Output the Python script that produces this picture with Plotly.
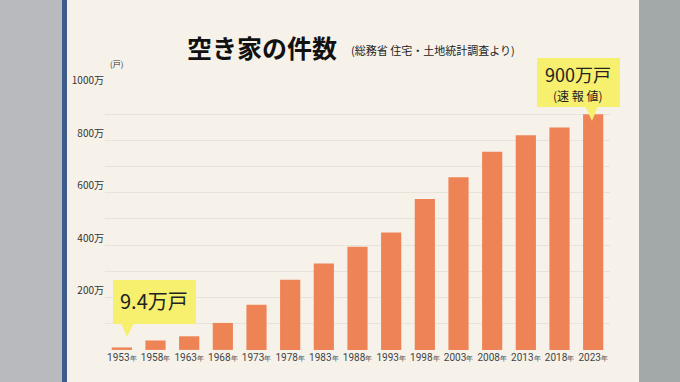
import plotly.graph_objects as go

years = ["1953", "1958", "1963", "1968", "1973", "1978", "1983", "1988",
         "1993", "1998", "2003", "2008", "2013", "2018", "2023"]
vacant_man = [9.4, 36, 52, 103, 172, 268, 330, 394, 448, 576, 659, 757, 820, 849, 900]
ytick_vals = [100, 200, 300, 400, 500, 600, 700, 800, 900, 1000]
ytick_text = ["", "200万", "", "400万", "", "600万", "", "800万", "", "1000万"]

W, H = 680, 382
def px(x): return x / W
# target picture row -> layout row (compensates the page offset seen in renders)
def py(y):
    yl = (y - 15) / 0.961
    return 1 - yl / H

JP = "Noto Sans CJK JP"
xlabels = [f"{y}<span style='font-size:7px'>年</span>" for y in years]

fig = go.Figure()
fig.add_trace(go.Bar(
    x=xlabels, y=vacant_man,
    marker=dict(color="#ee8455", line=dict(width=0)),
    hoverinfo="skip",
))

shapes = [
    dict(type="rect", xref="paper", yref="paper", x0=0, x1=px(63), y0=0, y1=1.1,
         fillcolor="#b8babd", line=dict(width=0), layer="below"),
    dict(type="rect", xref="paper", yref="paper", x0=px(62), x1=px(67), y0=0, y1=1.1,
         fillcolor="#3d5c8c", line=dict(width=0), layer="below"),
    dict(type="rect", xref="paper", yref="paper", x0=px(639), x1=1, y0=0, y1=1.1,
         fillcolor="#a3a8a8", line=dict(width=0), layer="below"),
    dict(type="path", xref="paper", yref="paper",
         path=f"M {px(121)},{py(323)} L {px(134)},{py(323)} L {px(127)},{py(337)} Z",
         fillcolor="#f7ef6e", line=dict(width=0)),
    dict(type="path", xref="paper", yref="paper",
         path=f"M {px(585)},{py(106)} L {px(598)},{py(106)} L {px(592)},{py(121)} Z",
         fillcolor="#f7ef6e", line=dict(width=0)),
    dict(type="rect", xref="paper", yref="paper", x0=px(113), x1=px(196), y0=py(324), y1=py(280),
         fillcolor="#f7ef6e", line=dict(width=0)),
    dict(type="rect", xref="paper", yref="paper", x0=px(537), x1=px(620), y0=py(107), y1=py(58),
         fillcolor="#f7ef6e", line=dict(width=0)),
]

def ann(text, x, y, size, color="#222", family=JP):
    return dict(text=text, x=px(x), y=py(y), xref="paper", yref="paper",
                xanchor="center", yanchor="middle", showarrow=False,
                font=dict(family=family, size=size, color=color))

annotations = [
    ann("<b>空き家の件数</b>", 262, 47, 25, "#111"),
    ann("(総務省 住宅・土地統計調査より)", 433, 50, 11),
    ann("(戸)", 116, 64, 8, "#333"),
    ann("9.4万戸", 154, 301, 20),
    ann("900万戸", 578, 74, 18),
    ann("(速 報 値)", 578, 96, 12),
]

fig.update_layout(
    width=W, height=H,
    margin=dict(l=0, r=0, t=0, b=0),
    paper_bgcolor="#f6f2ea",
    plot_bgcolor="rgba(0,0,0,0)",
    bargap=0.4,
    showlegend=False,
    shapes=shapes,
    annotations=annotations,
    xaxis=dict(domain=[px(105), px(610)], showgrid=False, showline=False, zeroline=False,
               ticks="", tickangle=0,
               tickfont=dict(family="Roboto", size=10, color="#444")),
    yaxis=dict(domain=[py(350), py(88)], range=[0, 1000],
               tickvals=ytick_vals, ticktext=ytick_text,
               ticklabelposition="outside top",
               showgrid=True, gridcolor="#e8e3da", gridwidth=1,
               zeroline=False, showline=False, ticks="",
               tickfont=dict(family=JP, size=10, color="#333")),
)

fig.write_html(
    "out.html", config={"displayModeBar": False},
    post_script=("document.body.style.margin='0';"
                 "document.documentElement.style.background="
                 "'linear-gradient(to right, #b8babd 0px, #b8babd 62px, #3d5c8c 62px, #3d5c8c 67px,"
                 " #f6f2ea 67px, #f6f2ea 639px, #a3a8a8 639px, #a3a8a8 100%)';"),
)
